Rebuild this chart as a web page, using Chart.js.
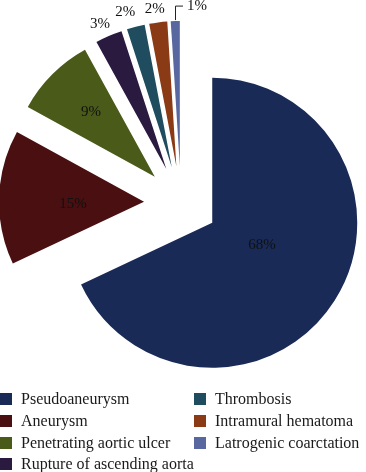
<!DOCTYPE html>
<html><head><meta charset="utf-8">
<script src="https://cdn.jsdelivr.net/npm/chart.js@4.4.1/dist/chart.umd.min.js"></script>
<style>
html,body{margin:0;padding:0;background:#fff;width:366px;height:472px;overflow:hidden;}
#wrap{position:absolute;left:0;top:0;width:362px;height:406px;}
#legend{position:absolute;left:0;top:0;width:366px;height:472px;font-family:"Liberation Serif","Times New Roman",serif;font-size:16px;color:#1a1a1a;pointer-events:none;}
.item{position:absolute;display:flex;align-items:center;white-space:nowrap;height:22px;line-height:22px;}
.box{width:12px;height:12px;margin-right:9px;flex:none;}
</style></head><body>
<div id="wrap"><canvas id="c"></canvas></div>
<div id="legend"></div>
<script>
// ---- data ----
const categories = ["Pseudoaneurysm", "Aneurysm", "Penetrating aortic ulcer", "Rupture of ascending aorta", "Thrombosis", "Intramural hematoma", "Latrogenic coarctation"];
const values = [68, 15, 9, 3, 2, 2, 1];
const valueLabels = ["68%", "15%", "9%", "3%", "2%", "2%", "1%"];

// ---- styles ----
const colors = ["#192a56", "#4a0f10", "#4a5a19", "#2a1a40", "#1f4c5f", "#8a3a15", "#5867a0"];
const explodeDist = 37;          // px each slice is pulled out
const pieRadius = 145;
// label placement: [distance from slice vertex, angle tweak in degrees]
const labelPlace = [[54.5, -8.4], [71, -3.6], [91, 0.4], [159.5, -1.2], [162.4, -2.3], [158.5, -0.6], null];
const leaderIndex = 6;
const legendCols = [{box: 0, rows: [0, 1, 2, 3]}, {box: 194, rows: [4, 5, 6]}];
const legendRowY = [399, 421, 442.5, 464];

const explodePlugin = {
  id: 'explode',
  afterDatasetsUpdate(chart) {
    const ca = chart.chartArea;
    const cx = (ca.left + ca.right) / 2, cy = (ca.top + ca.bottom) / 2;
    chart.getDatasetMeta(0).data.forEach(arc => {
      const mid = (arc.startAngle + arc.endAngle) / 2;
      arc.x = cx + explodeDist * Math.cos(mid);
      arc.y = cy + explodeDist * Math.sin(mid);
    });
  }
};

const labelPlugin = {
  id: 'pctLabels',
  afterDatasetsDraw(chart) {
    const ctx = chart.ctx;
    ctx.save();
    ctx.font = '15px "Liberation Serif", "Times New Roman", serif';
    ctx.fillStyle = '#111';
    ctx.textBaseline = 'middle';
    chart.getDatasetMeta(0).data.forEach((arc, i) => {
      const mid = (arc.startAngle + arc.endAngle) / 2;
      if (i === leaderIndex) {
        const sx = arc.x + (arc.outerRadius + 1) * Math.cos(mid);
        const sy = arc.y + (arc.outerRadius + 1) * Math.sin(mid);
        const topY = sy - 14;
        ctx.strokeStyle = '#222';
        ctx.lineWidth = 1;
        ctx.beginPath();
        ctx.moveTo(Math.round(sx) + 0.5, sy);
        ctx.lineTo(Math.round(sx) + 0.5, topY);
        ctx.lineTo(Math.round(sx) + 8, topY);
        ctx.stroke();
        ctx.textAlign = 'left';
        ctx.fillText(valueLabels[i], Math.round(sx) + 12, topY);
        return;
      }
      const p = labelPlace[i];
      const a = mid + p[1] * Math.PI / 180;
      ctx.textAlign = 'center';
      ctx.fillText(valueLabels[i], arc.x + p[0] * Math.cos(a), arc.y + p[0] * Math.sin(a));
    });
    ctx.restore();
  }
};

new Chart(document.getElementById('c'), {
  type: 'pie',
  data: {
    labels: categories,
    datasets: [{
      data: values,
      backgroundColor: colors,
      borderWidth: 0,
      hoverOffset: 0,
      clip: false
    }]
  },
  options: {
    responsive: true,
    maintainAspectRatio: false,
    animation: false,
    radius: pieRadius,
    layout: {padding: 0},
    events: [],
    plugins: {legend: {display: false}, tooltip: {enabled: false}}
  },
  plugins: [explodePlugin, labelPlugin]
});

// HTML legend built from the arrays
const lg = document.getElementById('legend');
legendCols.forEach(col => {
  col.rows.forEach((idx, r) => {
    const it = document.createElement('div');
    it.className = 'item';
    it.style.left = col.box + 'px';
    it.style.top = (legendRowY[r] - 11) + 'px';
    const b = document.createElement('span');
    b.className = 'box';
    b.style.background = colors[idx];
    const t = document.createElement('span');
    t.textContent = categories[idx];
    it.appendChild(b); it.appendChild(t);
    lg.appendChild(it);
  });
});
</script>
</body></html>
